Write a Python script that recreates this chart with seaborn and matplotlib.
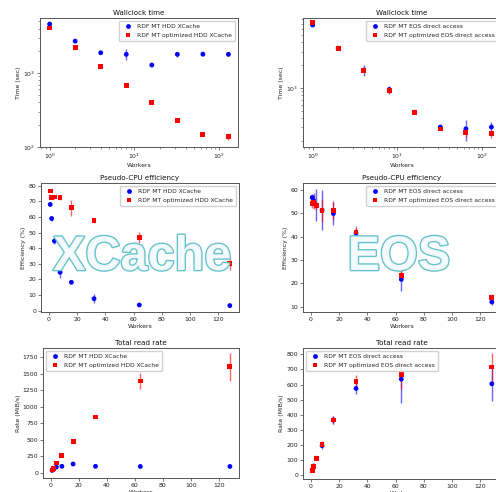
import pandas as pd
import matplotlib
matplotlib.use("Agg")
import matplotlib.pyplot as plt
import matplotlib.patheffects as pe
import seaborn as sns

# Dados
workers = [1, 2, 4, 8, 16, 32, 64, 128]

lbl_hdd = "RDF MT HDD XCache"
lbl_hdd_opt = "RDF MT optimized HDD XCache"
lbl_eos = "RDF MT EOS direct access"
lbl_eos_opt = "RDF MT optimized EOS direct access"

# Wallclock time (sec)
time_hdd = [4600, 2700, 1880, 1790, 1283, 1790, 1800, 1790]
time_hdd_err = [150, 90, 60, 300, 40, 150, 80, 80]
time_hdd_opt = [4060, 2200, 1217, 674, 397, 227, 147, 138]
time_hdd_opt_err = [100, 70, 40, 15, 15, 6, 8, 12]

time_eos = [6700, 3330, 1710, 950, 478, 304, 288, 304]
time_eos_err = [250, 80, 300, 110, 15, 15, 90, 50]
time_eos_opt = [7240, 3330, 1700, 910, 478, 286, 257, 250]
time_eos_opt_err = [200, 80, 60, 60, 20, 12, 35, 30]

# Pseudo-CPU efficiency (%)
eff_hdd = [68.0, 59.0, 44.6, 24.6, 18.2, 7.7, 3.7, 3.3]
eff_hdd_err = [0.8, 1.5, 2.0, 3.5, 0.8, 3.0, 0.5, 0.5]
eff_hdd_opt = [76.6, 72.3, 72.8, 72.6, 65.9, 57.8, 47.0, 30.0]
eff_hdd_opt_err = [0.8, 1.0, 1.2, 1.5, 5.0, 1.5, 3.5, 4.0]

eff_eos = [56.8, 55.5, 53.5, 51.3, 49.9, 41.5, 21.7, 12.0]
eff_eos_err = [1.5, 3.2, 7.0, 8.5, 5.0, 2.0, 5.2, 1.5]
eff_eos_opt = [54.2, 54.8, 53.3, 51.3, 51.2, 42.0, 23.5, 14.0]
eff_eos_opt_err = [2.0, 3.0, 2.0, 5.0, 4.0, 2.5, 2.5, 1.5]

# Total read rate (MiB/s)
rate_hdd = [35, 60, 86, 97, 132, 97, 95, 95]
rate_hdd_err = [5, 5, 8, 8, 10, 8, 5, 5]
rate_hdd_opt = [41, 70, 147, 258, 470, 845, 1391, 1604]
rate_hdd_opt_err = [5, 8, 20, 15, 25, 15, 115, 210]

rate_eos = [32, 60, 112, 195, 365, 574, 636, 605]
rate_eos_err = [5, 5, 15, 25, 25, 36, 157, 115]
rate_eos_opt = [28, 58, 110, 205, 365, 618, 668, 716]
rate_eos_opt_err = [5, 5, 10, 20, 25, 45, 95, 95]

# Configuração visual
sns.set_style("white")
plt.rcParams.update({
    "font.family": ["DejaVu Sans"],
    "font.size": 4.4,
    "axes.edgecolor": "#555555",
    "axes.linewidth": 0.7,
    "axes.labelcolor": "#222222",
    "xtick.color": "#444444",
    "ytick.color": "#444444",
    "xtick.labelcolor": "#222222",
    "ytick.labelcolor": "#222222",
    "xtick.bottom": True,
    "ytick.left": True,
    "xtick.major.size": 2,
    "ytick.major.size": 2,
    "xtick.minor.size": 1.2,
    "ytick.minor.size": 1.2,
    "xtick.major.width": 0.5,
    "ytick.major.width": 0.5,
    "xtick.minor.width": 0.4,
    "ytick.minor.width": 0.4,
    "xtick.major.pad": 1.5,
    "ytick.major.pad": 1.5,
    "axes.labelpad": 1.5,
})

W, H = 496, 492
fig = plt.figure(figsize=(W / 100, H / 100), dpi=100)


def box(left, top, right, bottom):
    return [left / W, 1 - bottom / H, (right - left) / W, (bottom - top) / H]


def painel(ax, ya, ya_err, yb, yb_err, la, lb, title, ylabel, loc, log=False, ylim=None):
    df = pd.DataFrame({
        "Workers": workers * 2,
        "valor": ya + yb,
        "Config": [la] * len(workers) + [lb] * len(workers),
    })
    for y, e, c in [(ya, ya_err, "blue"), (yb, yb_err, "red")]:
        ax.errorbar(workers, y, yerr=e, fmt="none", ecolor=c, alpha=0.6,
                    elinewidth=1.0, zorder=2)
    sns.scatterplot(data=df, x="Workers", y="valor", hue="Config", style="Config",
                    palette={la: "blue", lb: "red"}, markers={la: "o", lb: "s"},
                    s=12, linewidth=0, ax=ax, zorder=3)
    if log:
        ax.set_xscale("log")
        ax.set_yscale("log")
        ax.set_xlim(0.77, 166)
    else:
        ax.set_xlim(-5.5, 134.5)
    if ylim:
        ax.set_ylim(*ylim)
    ax.set_title(title, fontsize=5.1, pad=2.5, color="#111111")
    ax.set_xlabel("Workers")
    ax.set_ylabel(ylabel)
    sns.move_legend(ax, loc, title=None, fontsize=4.3, frameon=True,
                    borderpad=0.5, handletextpad=0.6, labelspacing=0.55,
                    edgecolor="#cccccc", framealpha=0.9, borderaxespad=0.5)


# Linha 1: tempo
ax = fig.add_axes(box(40, 18, 238, 147))
painel(ax, time_hdd, time_hdd_err, time_hdd_opt, time_hdd_opt_err, lbl_hdd, lbl_hdd_opt,
       "Wallclock time", "Time (sec)", "upper right", log=True, ylim=(100, 5550))
ax = fig.add_axes(box(303, 18, 501, 147))
painel(ax, time_eos, time_eos_err, time_eos_opt, time_eos_opt_err, lbl_eos, lbl_eos_opt,
       "Wallclock time", "Time (sec)", "upper right", log=True, ylim=(166, 8300))

# Linha 2: eficiência
ax = fig.add_axes(box(41, 183, 239, 312))
painel(ax, eff_hdd, eff_hdd_err, eff_hdd_opt, eff_hdd_opt_err, lbl_hdd, lbl_hdd_opt,
       "Pseudo-CPU efficiency", "Efficiency (%)", "upper right", ylim=(-0.8, 81.7))
ax = fig.add_axes(box(303, 183, 501, 312))
painel(ax, eff_eos, eff_eos_err, eff_eos_opt, eff_eos_opt_err, lbl_eos, lbl_eos_opt,
       "Pseudo-CPU efficiency", "Efficiency (%)", "upper right", ylim=(7.7, 63))

# Linha 3: taxa de leitura
ax = fig.add_axes(box(43, 348, 239, 478))
painel(ax, rate_hdd, rate_hdd_err, rate_hdd_opt, rate_hdd_opt_err, lbl_hdd, lbl_hdd_opt,
       "Total read rate", "Rate (MiB/s)", "upper left", ylim=(-80, 1890))
ax = fig.add_axes(box(303, 348, 501, 479))
painel(ax, rate_eos, rate_eos_err, rate_eos_opt, rate_eos_opt_err, lbl_eos, lbl_eos_opt,
       "Total read rate", "Rate (MiB/s)", "upper left", ylim=(-26, 842))

# Marcas d'água
efeito = [pe.Stroke(linewidth=1.9, foreground="#5cbec8"), pe.Normal()]
for txt, xc in [("XCache", 142), ("EOS", 399)]:
    fig.text(xc / W, 1 - 270 / H, txt, ha="center", va="baseline",
             fontsize=35, fontweight="bold", family=["Liberation Sans"],
             color="#f5fbfc", alpha=0.95, path_effects=efeito, zorder=5)

plt.savefig("out.png", dpi=100)
